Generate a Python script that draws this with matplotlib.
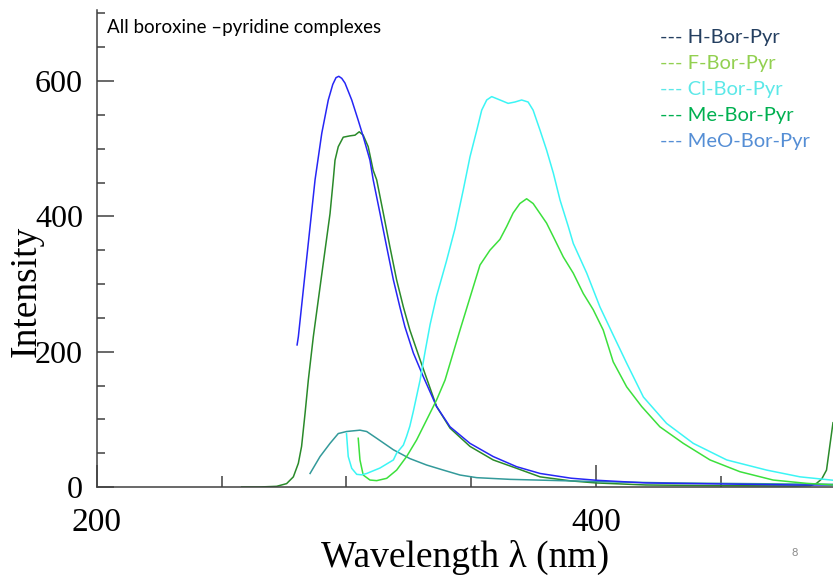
import numpy as np
import matplotlib
matplotlib.use('Agg')
import matplotlib.pyplot as plt
from matplotlib.ticker import MultipleLocator

# 读图得到的光谱数据 (波长 nm, 强度)
blue_wl = [280.2, 280.7, 283, 285, 287.4, 290.1, 292.7, 294.5, 295.8, 296.9, 298.1, 299.4, 302.1,
           304.7, 306.7, 309.4, 310.7, 313.4, 316.1, 318.8, 321.4, 323.4, 326.8, 330.8, 336.1,
           341.5, 349.5, 358.8, 368.2, 377.6, 390, 400, 420, 440, 460, 480, 495]
blue_I = [210, 222, 302, 371, 454, 523, 572, 595, 605, 607, 604, 597, 572,
          542, 518, 483, 454, 405, 355, 306, 266, 237, 198, 163, 119,
          89, 64.5, 45, 30, 20, 13, 10, 6, 5, 4, 3, 3]

dgreen_wl = [258, 265, 272, 276, 278.7, 280.7, 282, 283.4, 284.7, 286.7, 290.7, 293.4, 294.7,
             295.4, 296.7, 298.7, 301.4, 303.4, 305.1, 306.7, 308.7, 310.7, 312.1, 314.8, 317.4,
             320.1, 322.8, 325.4, 329.5, 336.1, 341.5, 349.5, 358.8, 368.2, 377.6, 390, 400,
             420, 450, 480, 486, 488.4, 490.5, 492.4, 494.4, 495]
dgreen_I = [0, 0, 1, 5, 15, 35, 60, 109, 158, 222, 331, 404, 454,
            483, 503, 517, 519, 520, 525, 520, 503, 468, 454, 404, 355,
            306, 266, 232, 188, 119, 87, 60, 40, 27.6, 15, 9, 6,
            3, 2, 1.5, 2, 5.4, 12, 25, 79, 95]

teal_wl = [285.4, 289.4, 293.4, 296.7, 300, 305.4, 308.1, 312.1, 318.8, 325.4, 332.1, 338.8,
           345.5, 352.2, 365.5, 385.6, 400, 430, 460, 495]
teal_I = [20, 45, 64.5, 79, 82, 84, 82, 72, 55, 42, 32.5, 25,
          17.7, 13.8, 11.3, 9.4, 8, 6, 5, 4]

cyan_wl = [300, 300.7, 302.1, 304.1, 306, 308.1, 313.4, 318.8, 320.1, 322.8, 324.1, 325.4, 326.8,
           329.5, 331.5, 333.5, 336.1, 340, 343.5, 346.8, 349.5, 352.2, 354.2, 356.2, 358.2,
           360.2, 362.2, 364.8, 367.5, 370.2, 372.8, 374.8, 377.6, 380.2, 382.9, 385.6, 388.9,
           390.9, 396.3, 401.6, 406.6, 412.3, 419, 428.3, 439, 452.4, 468.4, 481.8, 495]
cyan_I = [79, 45, 27.6, 18.7, 18, 20, 28, 40, 50, 62, 75, 90, 112,
          158, 200, 240, 282, 333, 382, 439, 488, 527, 557, 572, 577,
          574, 571, 567, 569, 572, 569, 557, 527, 498, 464, 424, 385,
          360, 316, 266, 227, 183, 133, 94, 64.5, 40, 25, 15, 10]

green_wl = [304.7, 305.4, 306.7, 309.4, 312.1, 316.1, 320.1, 324.1, 328.1, 332.1, 336.1, 339.5,
            345.5, 349.5, 353.5, 357.5, 361.5, 364.2, 366.8, 369.5, 372.2, 374.8, 377.6, 380.2,
            382.9, 386.9, 390.9, 394.9, 398.9, 402.9, 406.9, 412.3, 418.3, 425.6, 435, 445.7,
            457.7, 471, 484.4, 495]
green_I = [72, 40, 17.7, 10.3, 9.4, 12.8, 25, 45, 69.5, 99, 128.6, 158,
           232, 280, 328, 350, 366, 385, 405, 419, 426, 419, 404, 390,
           370, 340, 316, 286, 262, 232, 185, 148, 119, 89, 64.5, 40,
           22.6, 10.3, 5.4, 3]

legend_names = ['H-Bor-Pyr', 'F-Bor-Pyr', 'Cl-Bor-Pyr', 'Me-Bor-Pyr', 'MeO-Bor-Pyr']
legend_colors = ['#243F60', '#92D050', '#5CE8E8', '#00B050', '#558ED5']

serif = ['Liberation Serif', 'DejaVu Serif']
sans = ['Lato', 'DejaVu Sans']

fig = plt.figure(figsize=(8.33, 5.76), dpi=100)
ax = fig.add_axes([97 / 833, 89 / 576, 1 - 97 / 833, 477 / 576])

lw = 1.1
ax.plot(dgreen_wl, dgreen_I, color='#2A8A2A', lw=lw)
ax.plot(teal_wl, teal_I, color='#339A9A', lw=lw)
ax.plot(blue_wl, blue_I, color='#2626F5', lw=lw)
ax.plot(green_wl, green_I, color='#3CE03C', lw=lw)
ax.plot(cyan_wl, cyan_I, color='#3CF5F5', lw=lw)

ax.set_xlim(200, 495)
ax.set_ylim(0, 705)

ax.xaxis.set_major_locator(MultipleLocator(200))
ax.xaxis.set_minor_locator(MultipleLocator(50))
ax.yaxis.set_major_locator(MultipleLocator(200))
ax.yaxis.set_minor_locator(MultipleLocator(50))

ax.tick_params(axis='x', which='major', direction='in', length=16, width=1.1,
               color='#404040', pad=15, labelsize=24)
ax.tick_params(axis='x', which='minor', direction='in', length=8, width=1.1, color='#404040')
ax.tick_params(axis='y', which='major', direction='in', length=12, width=1.1,
               color='#404040', pad=10, labelsize=23)
ax.tick_params(axis='y', which='minor', direction='in', length=6, width=1.1, color='#404040')
for lab in ax.get_xticklabels() + ax.get_yticklabels():
    lab.set_family(serif)

for s in ['top', 'right']:
    ax.spines[s].set_visible(False)
for s in ['left', 'bottom']:
    ax.spines[s].set_color('#404040')
    ax.spines[s].set_linewidth(1.1)

fig.text(26 / 833, 1 - 291 / 576, 'Intensity', rotation=90, ha='center', va='center',
         fontsize=27, family=serif)
fig.text(465 / 833, 1 - 557 / 576, 'Wavelength λ (nm)', ha='center', va='center',
         fontsize=27, family=serif)

fig.text(107 / 833, 1 - 27 / 576, 'All boroxine –pyridine complexes', ha='left', va='center',
         fontsize=13.5, family=sans)

for i, (name, col) in enumerate(zip(legend_names, legend_colors)):
    fig.text(660 / 833, 1 - (37 + 26.2 * i) / 576, '--- ' + name, ha='left', va='center',
             fontsize=14.5, color=col, family=sans)

fig.text(795 / 833, 1 - 553 / 576, '8', ha='center', va='center', fontsize=8,
         color='#8C8C8C', family=sans)

fig.savefig('out.png', dpi=100)
